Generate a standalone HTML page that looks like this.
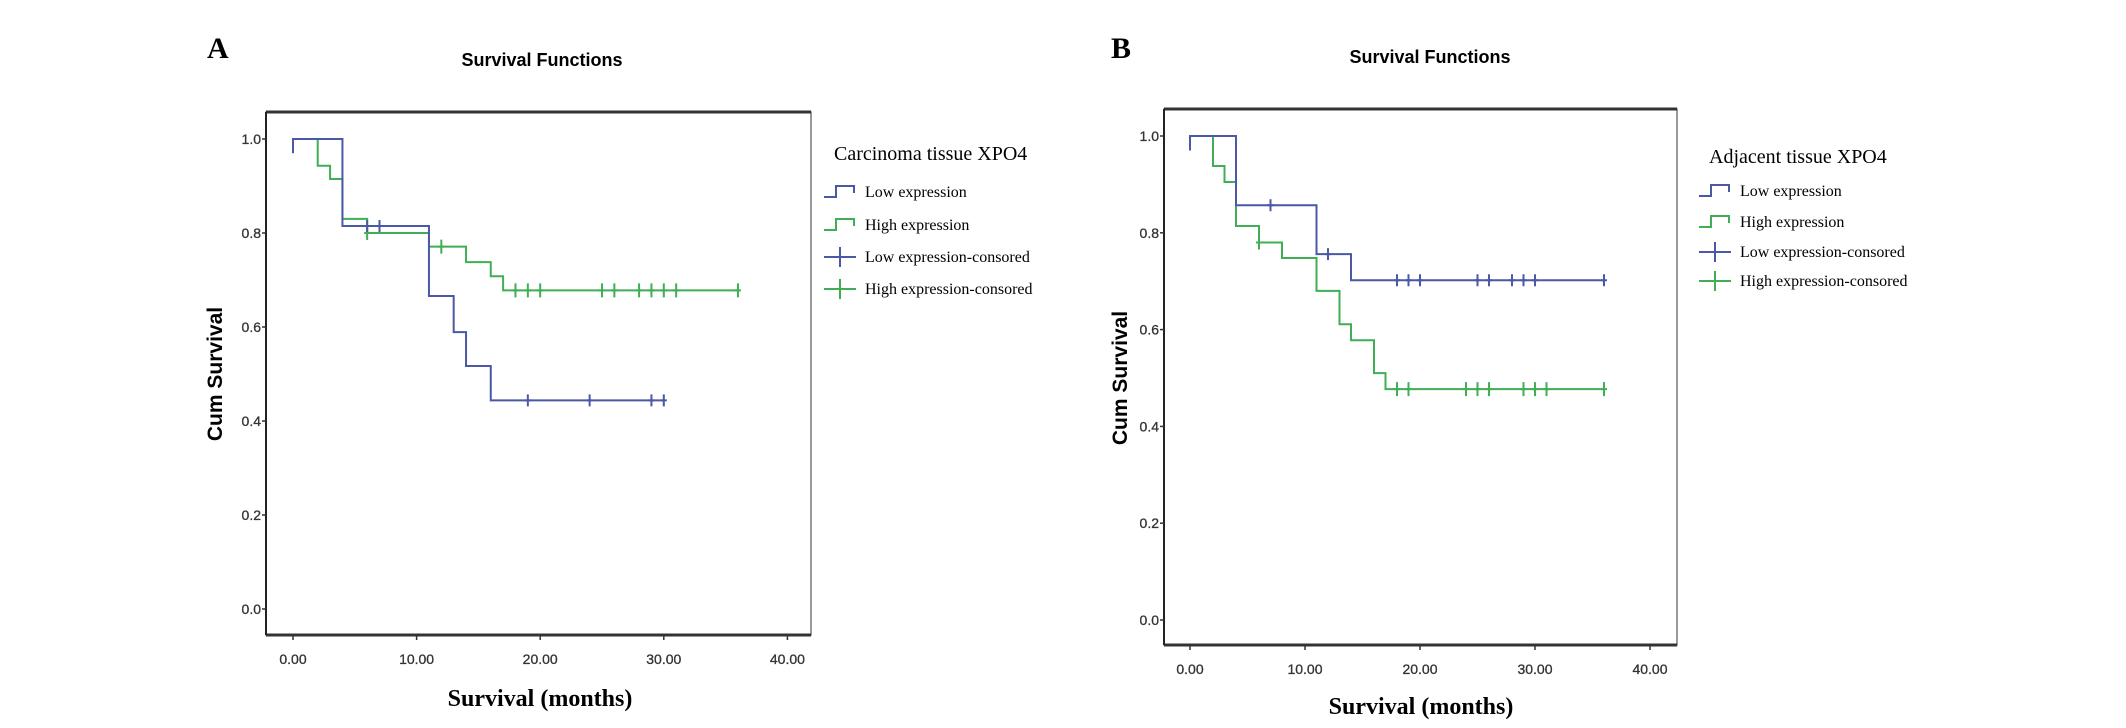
<!DOCTYPE html>
<html><head><meta charset="utf-8"><style>
html,body{margin:0;padding:0;background:#fff;width:2126px;height:728px;overflow:hidden}
svg{display:block}
.sans{font-family:"Liberation Sans",sans-serif}
.serif{font-family:"Liberation Serif",serif}
</style></head><body>
<svg id="fig" width="2126" height="728" viewBox="0 0 2126 728"></svg>
<script>
// Panel A data
const aLowT=[0,4,11,13,14,16];
const aLowS=[1.0,0.815,0.666,0.589,0.517,0.444];
const aLowEnd=30;
const aLowCens=[6,7,19,24,29,30];
const aLowCensS=[0.815,0.815,0.444,0.444,0.444,0.444];
const aHighT=[0,2,3,4,6,11,14,16,17];
const aHighS=[1.0,0.943,0.915,0.83,0.80,0.771,0.738,0.708,0.678];
const aHighEnd=36;
const aHighCens=[6,12,18,19,20,25,26,28,29,30,31,36];
const aHighCensS=[0.80,0.771,0.678,0.678,0.678,0.678,0.678,0.678,0.678,0.678,0.678,0.678];
// Panel B data
const bLowT=[0,4,11,14];
const bLowS=[1.0,0.857,0.756,0.702];
const bLowEnd=36;
const bLowCens=[7,12,18,19,20,25,26,28,29,30,36];
const bLowCensS=[0.857,0.756,0.702,0.702,0.702,0.702,0.702,0.702,0.702,0.702,0.702];
const bHighT=[0,2,3,4,6,8,11,13,14,16,17];
const bHighS=[1.0,0.938,0.905,0.814,0.78,0.748,0.68,0.611,0.578,0.51,0.477];
const bHighEnd=36;
const bHighCens=[6,18,19,24,25,26,29,30,31,36];
const bHighCensS=[0.78,0.477,0.477,0.477,0.477,0.477,0.477,0.477,0.477,0.477];
const xTicks=["0.00","10.00","20.00","30.00","40.00"];
const xTickVals=[0,10,20,30,40];
const yTicks=["0.0","0.2","0.4","0.6","0.8","1.0"];
const yTickVals=[0,0.2,0.4,0.6,0.8,1.0];

const NS="http://www.w3.org/2000/svg";
const svg=document.getElementById('fig');
const BLUE="#4a58a6", GREEN="#3fae55";
function mk(tag,attrs,parent){const e=document.createElementNS(NS,tag);for(const k in attrs)e.setAttribute(k,attrs[k]);(parent||svg).appendChild(e);return e;}
function txt(s,attrs,parent){const e=mk('text',attrs,parent);e.textContent=s;return e;}

function panel(cfg){
  const g=mk('g',{});
  
  
  const X=t=>cfg.x0+t*cfg.px;
  const Y=s=>cfg.y0-s*cfg.py;
  const L=txt(cfg.letter,{x:cfg.lx,y:cfg.ly,'font-size':30,'font-weight':'bold','class':'serif'},g);
  
  
  const T=txt('Survival Functions',{x:cfg.tx,y:cfg.ty,'font-size':18,'font-weight':'bold','text-anchor':'middle','class':'sans'},g);
  
  
  const fr=mk('rect',{x:cfg.l,y:cfg.t,width:cfg.r-cfg.l,height:cfg.b-cfg.t,fill:'none',stroke:'#555','stroke-width':1.2},g);
  
  
  mk('line',{x1:cfg.l,x2:cfg.r,y1:cfg.t,y2:cfg.t,stroke:'#333','stroke-width':3},g);
  mk('line',{x1:cfg.l,x2:cfg.r,y1:cfg.b,y2:cfg.b,stroke:'#333','stroke-width':3},g);
  mk('line',{x1:cfg.l,x2:cfg.l,y1:cfg.t,y2:cfg.b,stroke:'#222','stroke-width':2},g);
  yTickVals.forEach((v,i)=>{
    mk('line',{x1:cfg.l-4,x2:cfg.l,y1:Y(v),y2:Y(v),stroke:'#333','stroke-width':1.5},g);
    const e=txt(yTicks[i],{x:cfg.l-5,y:Y(v)+5,'font-size':14,'text-anchor':'end','class':'sans',fill:'#333','stroke':'#333','stroke-width':0.3},g);
    
    
  });
  xTickVals.forEach((v,i)=>{
    mk('line',{x1:X(v),x2:X(v),y1:cfg.b,y2:cfg.b+5,stroke:'#333','stroke-width':1.5},g);
    const e=txt(xTicks[i],{x:X(v),y:cfg.b+cfg.xtOff,'font-size':14,'text-anchor':'middle','class':'sans',fill:'#333','stroke':'#333','stroke-width':0.3},g);
    
    
  });
  const yt=txt('Cum Survival',{x:0,y:0,'font-size':21,'font-weight':'bold','text-anchor':'middle','class':'sans',transform:`translate(${cfg.yax},${cfg.yay}) rotate(-90)`},g);
  
  
  const xt=txt('Survival  (months)',{x:cfg.xax,y:cfg.xay,'font-size':24,'font-weight':'bold','text-anchor':'middle','class':'serif'},g);
  
  
  function curve(T_,S_,end,C,CS,color,nm,tick){
    let d=`M${X(0)},${Y(S_[0]-0.03)}L${X(0)},${Y(S_[0])}`;
    for(let i=1;i<T_.length;i++){d+=`L${X(T_[i])},${Y(S_[i-1])}L${X(T_[i])},${Y(S_[i])}`;}
    d+=`L${X(end)},${Y(S_[S_.length-1])}`;
    const p=mk('path',{d:d,fill:'none',stroke:color,'stroke-width':2},g);
    
    
    C.forEach((c,i)=>{
      const m=mk('path',{d:`M${X(c)},${Y(CS[i])-tick}L${X(c)},${Y(CS[i])+tick}M${X(c)-3},${Y(CS[i])}L${X(c)+3},${Y(CS[i])}`,stroke:color,'stroke-width':2,fill:'none'},g);
      
      
    });
  }
  curve(cfg.hT,cfg.hS,cfg.hEnd,cfg.hC,cfg.hCS,GREEN,'high-expression',7);
  curve(cfg.lT,cfg.lS,cfg.lEnd,cfg.lC,cfg.lCS,BLUE,'low-expression',6);
  const lg=mk('g',{},g);
  
  
  const lt=txt(cfg.legTitle,{x:cfg.legX,y:cfg.legTY,'font-size':20,'class':'serif'},lg);
  
  
  const labels=['Low  expression','High expression','Low  expression-consored','High  expression-consored'];
  const cols=[BLUE,GREEN,BLUE,GREEN];
  labels.forEach((s,i)=>{
    const y=cfg.legY[i];
    const sx=cfg.legX-10;
    if(i<2){
      mk('path',{d:`M${sx},${y+2}L${sx+12},${y+2}L${sx+12},${y-9}L${sx+30},${y-9}L${sx+30},${y-2}`,fill:'none',stroke:cols[i],'stroke-width':2},lg);
    }else{
      mk('path',{d:`M${sx},${y-3}L${sx+32},${y-3}M${sx+16},${y-13}L${sx+16},${y+7}`,fill:'none',stroke:cols[i],'stroke-width':2},lg);
    }
    const e=txt(s,{x:cfg.legX+31,y:y+2,'font-size':16,'class':'serif'},lg);
    
    
  });
}

panel({name:'panel-a',letter:'A',lx:207,ly:58,tx:542,ty:66,
  l:266,r:811,t:112,b:635,x0:293,px:12.36,y0:609,py:470,xtOff:29,
  yax:222,yay:374,xax:540,xay:706,
  lT:aLowT,lS:aLowS,lEnd:aLowEnd,lC:aLowCens,lCS:aLowCensS,
  hT:aHighT,hS:aHighS,hEnd:aHighEnd,hC:aHighCens,hCS:aHighCensS,
  legTitle:'Carcinoma tissue  XPO4',legX:834,legTY:160,legY:[195,228,260,292]});
panel({name:'panel-b',letter:'B',lx:1111,ly:58,tx:1430,ty:63,
  l:1164,r:1677,t:109,b:645,x0:1190,px:11.5,y0:620,py:484,xtOff:29,
  yax:1127,yay:378,xax:1421,xay:714,
  lT:bLowT,lS:bLowS,lEnd:bLowEnd,lC:bLowCens,lCS:bLowCensS,
  hT:bHighT,hS:bHighS,hEnd:bHighEnd,hC:bHighCens,hCS:bHighCensS,
  legTitle:'Adjacent tissue XPO4',legX:1709,legTY:163,legY:[194,225,255,284]});
</script>
</body></html>
